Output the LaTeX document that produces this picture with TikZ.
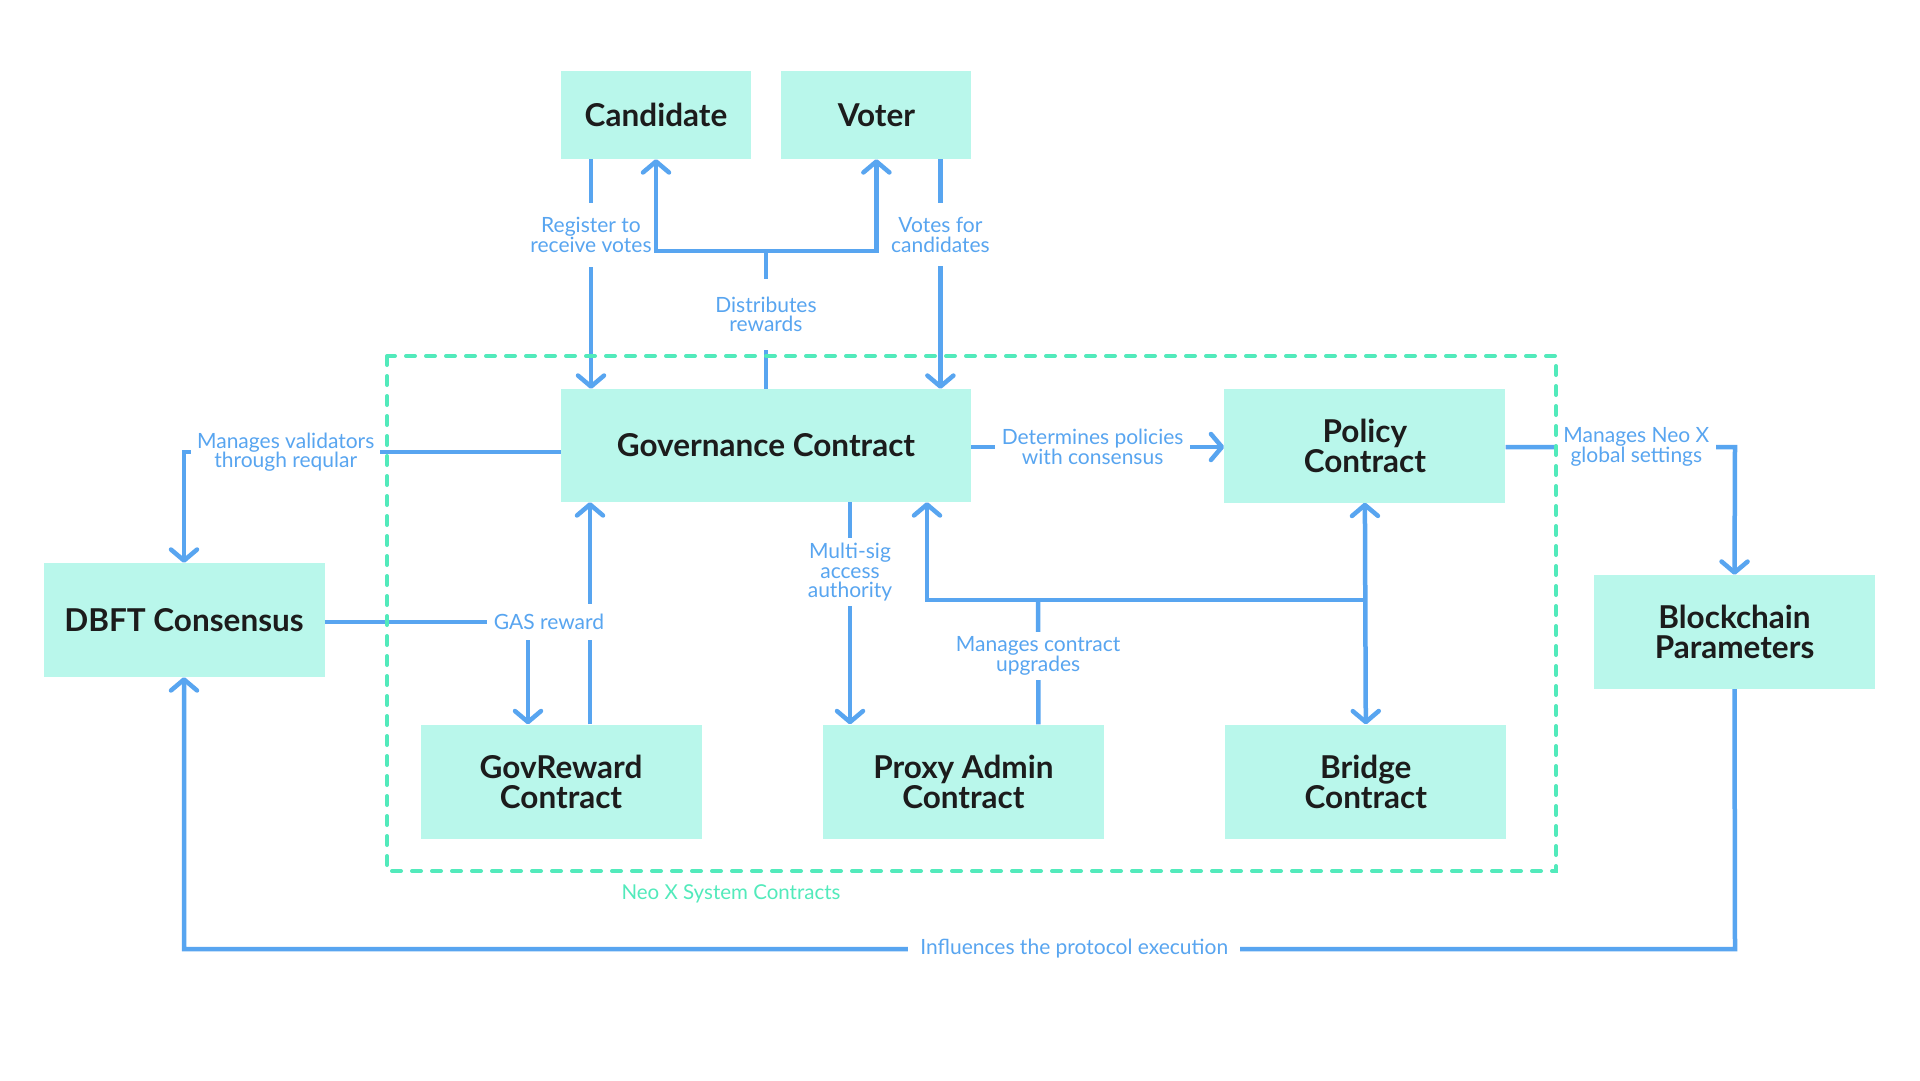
\documentclass[tikz,border=0pt]{standalone}
\usepackage{fontspec}
\setmainfont{Lato}
\usetikzlibrary{arrows.meta,positioning}

\definecolor{boxfill}{HTML}{B9F7EB}
\definecolor{linkblue}{HTML}{58A5F0}
\definecolor{sysgreen}{HTML}{52EABB}
\definecolor{textdark}{HTML}{1C1C1C}

\begin{document}
\begin{tikzpicture}[
  x=1pt, y=-1pt,
  box/.style={fill=boxfill, align=center, inner sep=0pt, minimum width=281pt, minimum height=114pt, text=textdark, font=\fontsize{31.5}{30}\selectfont\bfseries},
  actor/.style={box, minimum width=190pt, minimum height=88pt},
  lbl/.style={fill=white, align=center, text=linkblue, inner xsep=9pt, inner ysep=5pt, font=\fontsize{21}{19.6}\selectfont},
  link/.style={draw=linkblue, line width=4.5pt},
  arrow/.style={link, -{Straight Barb[length=11pt, width=26pt, round]}},
  arrows2/.style={link, {Straight Barb[length=11pt, width=26pt, round]}-{Straight Barb[length=11pt, width=26pt, round]}},
  sysline/.style={draw=sysgreen, line width=4pt, dash pattern=on 9pt off 11pt, line cap=round}
]
\fill[white] (0,0) rectangle (1920,1081);
\useasboundingbox (0,0) rectangle (1920,1081);

\node[actor] (cand) at (656,115) {Candidate};
\node[actor, right=30pt of cand] (voter) {Voter};
\node[box, minimum width=410pt, minimum height=113pt] (gov) at (766,445.5) {Governance Contract};
\node[box, right=253pt of gov] (policy) {Policy\\Contract};
\node[box] (dbft) at (184,620) {DBFT Consensus};
\node[box] (bcp) at (1734.5,632) {Blockchain\\Parameters};
\node[box] (govrew) at (561,781.5) {GovReward\\Contract};
\node[box, right=121pt of govrew] (proxy) {Proxy Admin\\Contract};
\node[box, right=121pt of proxy] (bridge) {Bridge\\Contract};

\coordinate (dist) at (766,251);
\coordinate (mv) at (184,452);
\coordinate (gas) at (528,622);
\coordinate (upg) at (1038,600);
\coordinate (nx) at (1735,447);
\coordinate (inf1) at (1735,949);
\coordinate (inf2) at (184,949);

\draw[arrow] ([xshift=-65pt]cand.south) -- node[lbl, pos=0.33, inner xsep=2pt, inner ysep=14pt] {Register to\\receive votes} ([xshift=-65pt]cand.south |- gov.north);
\draw[arrow] ([xshift=64pt]voter.south) -- node[lbl, pos=0.33, inner xsep=2pt, inner ysep=14pt] {Votes for\\candidates} ([xshift=64pt]voter.south |- gov.north);
\draw[link] (gov.north) -- node[lbl, pos=0.54, inner ysep=18pt] {Distributes\\rewards} (dist);
\draw[arrow] (dist) -| (cand.south);
\draw[arrow] (dist) -| (voter.south);

\draw[arrow] ([yshift=-6.5pt]gov.west) -- node[lbl, pos=0.73, inner xsep=6pt] {Manages validators\\through reqular} (mv) -- (dbft.north);

\draw[arrow] ([xshift=29pt]govrew.north) -- ([xshift=29pt]govrew.north |- gov.south);
\draw[arrow] ([yshift=-2pt]dbft.east) -- (gas) -- (gas |- govrew.north);
\node[lbl, inner ysep=10pt, inner xsep=7pt] (gaslbl) at (549,622) {GAS reward};

\draw[arrow] ([xshift=84pt]gov.south) -- node[lbl, pos=0.315] {Multi-sig\\access\\authority} ([xshift=84pt]gov.south |- proxy.north);

\draw[link] ([xshift=75pt]proxy.north) -- node[lbl, pos=0.55] {Manages contract\\upgrades} (upg);
\draw[arrow] (policy.south |- upg) -| ([xshift=161pt]gov.south);
\draw[arrows2] (policy.south) -- (bridge.north);

\draw[arrow] ([yshift=-1.5pt]gov.east) -- node[lbl, pos=0.48, inner xsep=7pt] {Determines policies\\with consensus} ([yshift=-1.5pt]gov.east -| policy.west);
\draw[arrow] ([yshift=-1.5pt]policy.east) -- node[lbl, pos=0.57, inner xsep=7pt] {Manages Neo X\\global settings} (nx) -- (bcp.north);

\draw[arrow] (bcp.south) -- (inf1) -- node[lbl, pos=0.426, inner xsep=12pt] {Influences the protocol execution} (inf2) -- (dbft.south);

% system contracts frame
\draw[sysline] (387,356) rectangle (1556,871);
\node[text=sysgreen, font=\fontsize{20.5}{19.6}\selectfont] (syslbl) at (731,894) {Neo X System Contracts};

\end{tikzpicture}
\end{document}
